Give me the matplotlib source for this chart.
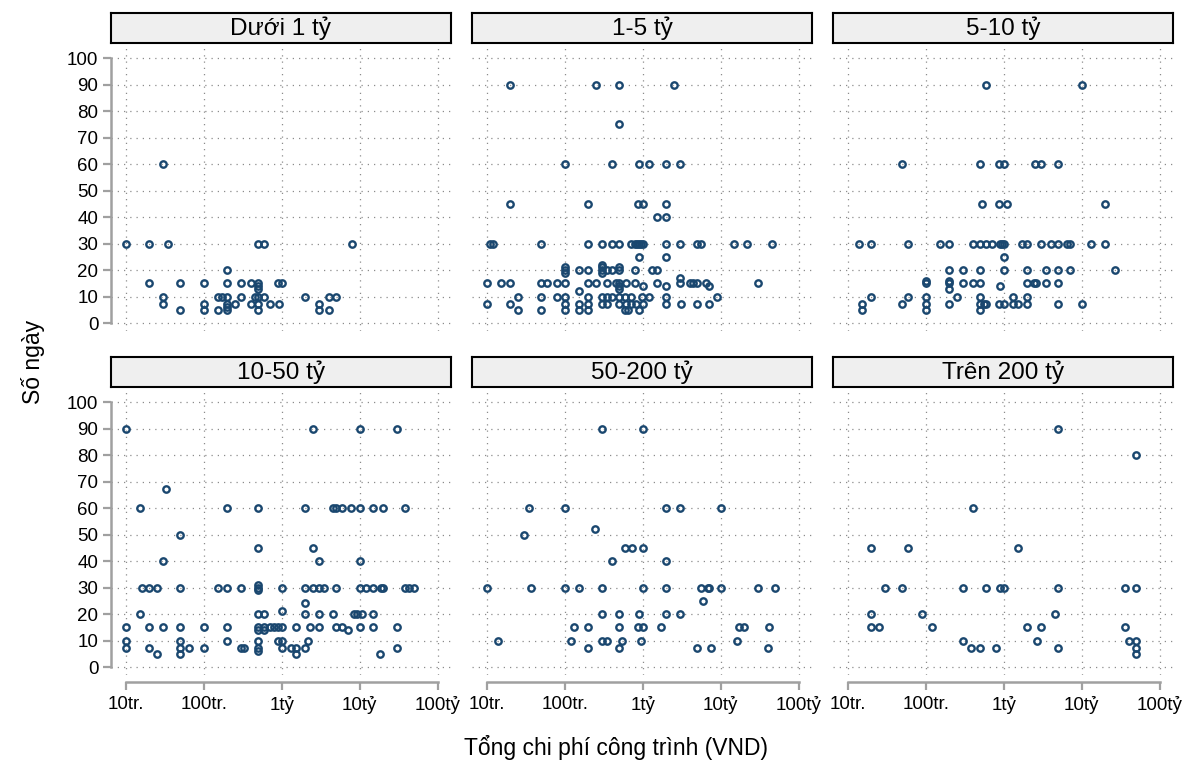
import matplotlib
matplotlib.use("Agg")
import matplotlib.pyplot as plt
from matplotlib.ticker import FixedLocator, NullLocator

plt.rcParams["font.family"] = ["Liberation Sans", "DejaVu Sans"]

# Facet titles (project size class)
titles = ["Dưới 1 tỷ", "1-5 tỷ", "5-10 tỷ", "10-50 tỷ", "50-200 tỷ", "Trên 200 tỷ"]

# x tick labels (total cost, VND)
x_ticks = [1e7, 1e8, 1e9, 1e10, 1e11]
x_labels = ["10tr.", "100tr.", "1tỷ", "10tỷ", "100tỷ"]
y_ticks = list(range(0, 101, 10))

# Data: for each panel, a list of day levels and the costs (in triệu VND) seen at each level
p1_days = [30, 60, 20, 15, 14, 13, 10, 7, 6, 5]
p1_cost = [[10, 20, 35, 500, 600, 8000], [30], [200],
           [20, 50, 100, 200, 300, 400, 500, 900, 1000], [500], [500],
           [30, 150, 170, 200, 300, 450, 500, 600, 2000, 4000, 5000],
           [30, 100, 200, 250, 400, 500, 700, 930, 3000], [200],
           [50, 100, 150, 200, 500, 3000, 4000]]

p2_days = [90, 75, 60, 45, 40, 30, 25, 22, 21, 20, 19, 17, 15, 14, 13, 12, 10, 7, 5]
p2_cost = [[20, 250, 500, 2500], [500], [100, 400, 900, 1200, 2000, 3000],
           [20, 200, 880, 1000, 2000], [1500, 2000],
           [11, 12, 50, 200, 300, 400, 500, 700, 800, 850, 900, 950, 1000, 2000,
            3000, 5000, 5600, 15000, 22000, 45000],
           [900, 2000], [300], [100, 300, 500],
           [100, 150, 200, 300, 350, 400, 500, 800, 1300, 1500], [100, 300], [3000],
           [10, 15, 20, 50, 60, 80, 100, 200, 250, 350, 450, 500, 610, 800, 1500,
            3000, 4000, 4400, 5000, 6400, 30000],
           [500, 1000, 2000, 7000], [500], [150],
           [25, 50, 80, 100, 200, 300, 350, 400, 500, 590, 710, 990, 1200, 2000, 9000],
           [10, 20, 100, 150, 200, 300, 350, 500, 610, 710, 810, 1000, 2000, 3100,
            5000, 7000],
           [25, 50, 100, 150, 200, 590, 640, 900]]

p3_days = [90, 60, 45, 30, 25, 20, 16, 15, 14, 13, 10, 7, 5]
p3_cost = [[600, 10000], [50, 500, 880, 1000, 2550, 2960, 5000],
           [530, 880, 1100, 20000],
           [14, 20, 60, 150, 200, 400, 500, 600, 700, 900, 950, 1000, 1700, 2000,
            3000, 4000, 5000, 6400, 7000, 13000, 20000],
           [1000], [200, 300, 500, 1000, 2000, 3500, 5000, 7000, 27000], [100, 200],
           [100, 200, 300, 400, 500, 2000, 2450, 2600, 3500, 5000], [900], [200],
           [20, 60, 100, 250, 500, 1300, 2000],
           [15, 50, 100, 200, 500, 550, 600, 880, 1000, 1300, 1500, 2000, 5000, 10000],
           [15, 100, 500]]

p4_days = [90, 67, 60, 50, 45, 40, 31, 30, 29, 24, 21, 20, 15, 14, 10, 7, 6, 5]
p4_cost = [[10, 2500, 10000, 30000], [33],
           [15, 200, 500, 2000, 4500, 4900, 6000, 7800, 10000, 15000, 20000, 38000],
           [50], [500, 2500], [30, 3000, 10000], [500],
           [16, 20, 25, 50, 150, 200, 300, 500, 1000, 2000, 2500, 3000, 3500, 5000,
            10000, 12000, 15000, 19000, 20000, 38000, 43000, 50000],
           [500], [2000], [1000],
           [15, 500, 600, 2000, 3000, 4500, 8400, 9250, 10600, 15000],
           [10, 20, 30, 50, 100, 200, 500, 600, 700, 800, 900, 1000, 1500, 2300,
            3000, 5000, 6000, 10000, 15000, 30000],
           [500, 600, 7000], [10, 50, 200, 500, 900, 1000, 2200],
           [10, 20, 50, 65, 100, 300, 330, 500, 1000, 1300, 1500, 2000, 30000],
           [500], [25, 50, 1500, 18000]]

p5_days = [90, 60, 52, 50, 45, 40, 30, 25, 20, 15, 10, 7]
p5_cost = [[300, 1000], [35, 100, 2000, 3000, 10000], [245], [30],
           [600, 720, 1000], [400, 2000],
           [10, 37, 100, 150, 300, 1000, 2000, 5500, 6800, 7000, 10000, 30000, 50000],
           [6000], [300, 500, 900, 2000, 3000],
           [130, 200, 500, 880, 1000, 1700, 17000, 20000, 42000],
           [14, 120, 300, 350, 540, 950, 16000],
           [200, 500, 5000, 7600, 40000]]

p6_days = [90, 80, 60, 45, 30, 20, 15, 10, 7, 5]
p6_cost = [[5000], [50000], [400], [20, 60, 1500],
           [30, 50, 300, 600, 900, 1000, 5000, 36000, 50000],
           [20, 90, 4500], [20, 25, 120, 2000, 3000, 36000],
           [300, 2700, 40000, 50000], [380, 500, 800, 5000, 50000], [50000]]

panels = [(p1_days, p1_cost), (p2_days, p2_cost), (p3_days, p3_cost),
          (p4_days, p4_cost), (p5_days, p5_cost), (p6_days, p6_cost)]

NAVY = "#1a476f"
GRID = "#8c8c8c"
AXIS = "#a0a0a0"
W, H = 1192, 762


def box(left, top, w, h):
    return [left / W, 1 - (top + h) / H, w / W, h / H]


fig = plt.figure(figsize=(W / 100, H / 100), dpi=100)
lefts = [111, 472, 833]
plot_tops = [44, 388]
strip_tops = [13, 357]
PW, PH, SH = 340, 287, 30

for i, (days, cost) in enumerate(panels):
    row, col = divmod(i, 3)
    ax = fig.add_axes(box(lefts[col], plot_tops[row], PW, PH))
    xs, ys = [], []
    for d, cs in zip(days, cost):
        for c in cs:
            xs.append(c * 1e6)
            ys.append(d)

    ax.set_xscale("log")
    ax.set_xlim(10 ** 6.81, 10 ** 11.17)
    ax.set_ylim(-3, 105.3)
    for yv in y_ticks:
        ax.axhline(yv, color=GRID, lw=0.9, ls=(0, (1, 4)), zorder=1)
    for xv in x_ticks:
        ax.axvline(xv, color=GRID, lw=0.9, ls=(0, (1, 4)), zorder=1)
    ax.plot(xs, ys, ls="none", marker="o", ms=4.6, mew=1.7, mfc="none",
            mec=NAVY, zorder=3, clip_on=False)

    for s in ["top", "right"]:
        ax.spines[s].set_visible(False)
    ax.xaxis.set_minor_locator(NullLocator())
    ax.xaxis.set_major_locator(FixedLocator(x_ticks))
    ax.yaxis.set_major_locator(FixedLocator(y_ticks))

    if col == 0:
        ax.spines["left"].set_bounds(0, 100)
        ax.spines["left"].set_color(AXIS)
        ax.spines["left"].set_linewidth(1.8)
        ax.tick_params(axis="y", length=6, width=1.6, color=AXIS,
                       labelsize=13.5, pad=3)
    else:
        ax.spines["left"].set_visible(False)
        ax.tick_params(axis="y", left=False, labelleft=False)

    if row == 1:
        ax.spines["bottom"].set_position(("outward", 5))
        ax.spines["bottom"].set_bounds(1e7, 1e11)
        ax.spines["bottom"].set_color(AXIS)
        ax.spines["bottom"].set_linewidth(1.8)
        ax.set_xticklabels(x_labels)
        ax.tick_params(axis="x", length=6, width=1.6, color=AXIS,
                       labelsize=13.5, pad=4)
    else:
        ax.spines["bottom"].set_visible(False)
        ax.tick_params(axis="x", bottom=False, labelbottom=False)

    sax = fig.add_axes(box(lefts[col], strip_tops[row], PW, SH))
    sax.set_facecolor("#efefef")
    sax.set_xticks([])
    sax.set_yticks([])
    for s in sax.spines.values():
        s.set_color("black")
        s.set_linewidth(1.5)
    sax.text(0.5, 0.48, titles[i], ha="center", va="center", fontsize=17.5,
             transform=sax.transAxes)

fig.text(33 / W, 1 - 362 / H, "Số ngày", rotation=90, ha="center", va="center",
         fontsize=16.5)
fig.text(616 / W, 1 - 747 / H, "Tổng chi phí công trình (VND)", ha="center",
         va="center", fontsize=16.5)

fig.savefig("out.png", dpi=100, facecolor="white")
